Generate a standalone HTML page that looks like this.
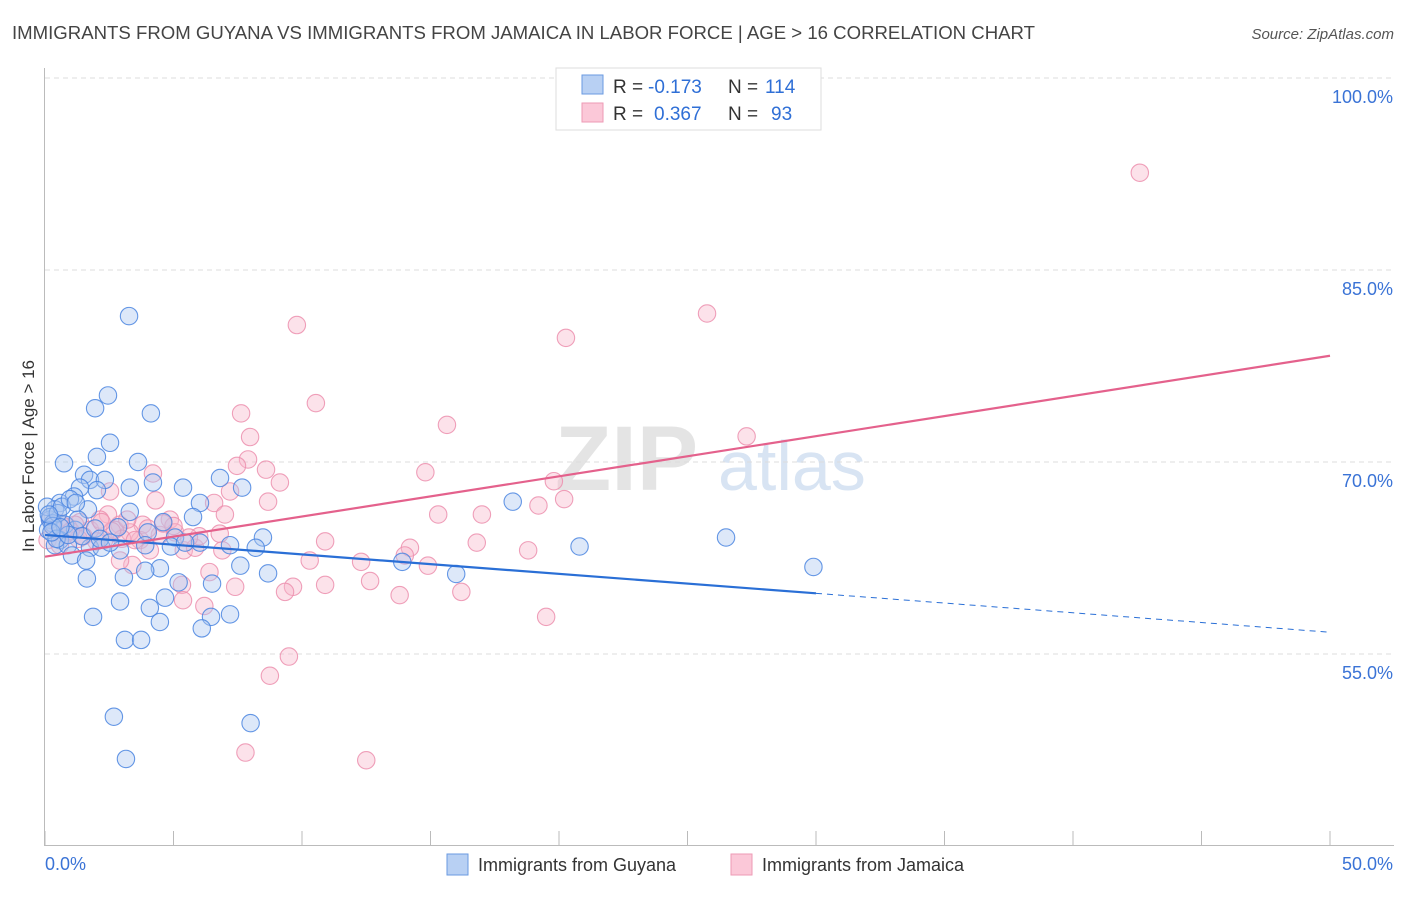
<!DOCTYPE html>
<html><head><meta charset="utf-8"><style>
body{margin:0;background:#fff;font-family:"Liberation Sans",sans-serif}
svg text{font-family:"Liberation Sans",sans-serif}
</style></head><body>
<svg id="chart" width="1406" height="892" xmlns="http://www.w3.org/2000/svg">
<text x="12" y="39" font-size="18.6" fill="#444">IMMIGRANTS FROM GUYANA VS IMMIGRANTS FROM JAMAICA IN LABOR FORCE | AGE &gt; 16 CORRELATION CHART</text>
<text x="1394" y="39" font-size="15" fill="#555" text-anchor="end" font-style="italic">Source: ZipAtlas.com</text>
<g><text x="555" y="490" font-size="92" fill="#e4e4e4" font-family="Liberation Serif" font-weight="bold">ZIP</text><text x="718" y="490" font-size="70" fill="#d8e4f3">atlas</text></g>
<g id="grid"></g><g id="axes"></g><g id="pink"></g><g id="blue"></g><g id="lines"></g>
<text transform="translate(34,456) rotate(-90)" font-size="17" fill="#333" text-anchor="middle">In Labor Force | Age &gt; 16</text>
<g font-size="19">
<rect x="556" y="68" width="265" height="62" fill="#fff" stroke="#ddd"/>
<rect x="582" y="75" width="21" height="19" fill="#b8d0f3" stroke="#6a9ae0"/>
<rect x="582" y="103" width="21" height="19" fill="#fbc8d8" stroke="#ee9ab5"/>
<text x="613" y="93" fill="#333">R =</text><text x="648" y="93" fill="#2f6fd6">-0.173</text>
<text x="728" y="93" fill="#333">N =</text><text x="765" y="93" fill="#2f6fd6">114</text>
<text x="613" y="120" fill="#333">R =</text><text x="654" y="120" fill="#2f6fd6">0.367</text>
<text x="728" y="120" fill="#333">N =</text><text x="771" y="120" fill="#2f6fd6">93</text>
</g>
<g>
<rect x="447" y="854" width="21" height="21" fill="#b8d0f3" stroke="#6a9ae0"/>
<text x="478" y="871" font-size="18" fill="#333">Immigrants from Guyana</text>
<rect x="731" y="854" width="21" height="21" fill="#fbc8d8" stroke="#ee9ab5"/>
<text x="762" y="871" font-size="18" fill="#333">Immigrants from Jamaica</text>
</g>
</svg>
<script>
const yTicks=[55,70,85,100];
const xTickLabels=["0.0%","50.0%"];
const blueX=[3.27,2.45,1.95,4.12,2.53,2.02,3.62,0.74,1.52,1.75,2.33,6.81,7.67,4.2,3.3,5.37,2.02,1.36,1.13,0.58,6.03,18.2,1.67,3.3,5.76,0.39,0.19,0.78,1.17,2.84,4.6,4.0,5.06,8.48,7.2,8.2,0.58,0.39,0.89,1.75,2.2,2.92,3.9,4.9,1.05,1.6,7.6,4.47,3.9,8.68,13.9,16.0,20.8,26.5,29.9,1.63,3.07,5.2,6.5,4.67,2.92,4.08,1.87,4.47,6.46,7.2,6.1,3.11,3.74,2.68,8.0,3.15,0.08,0.2,0.31,0.12,0.5,0.66,0.97,1.28,1.44,1.95,2.14,2.53,6.03,5.45,0.3,0.45,0.9,1.2,0.15,0.25,0.6];
const blueY=[81.4,75.2,74.2,73.8,71.5,70.4,70.0,69.9,69.0,68.6,68.6,68.75,68.0,68.4,68.0,68.0,67.8,68.0,67.3,66.8,66.8,66.9,66.3,66.1,65.7,66.3,65.5,65.1,64.7,64.9,65.3,64.5,64.1,64.1,63.5,63.3,63.9,63.5,63.5,63.3,63.3,63.1,63.5,63.4,62.7,62.3,61.9,61.7,61.5,61.3,62.2,61.25,63.4,64.1,61.8,60.9,61.0,60.6,60.5,59.4,59.1,58.6,57.9,57.5,57.9,58.1,57.0,56.1,56.1,50.1,49.6,46.8,66.5,65.7,65.2,64.7,66.0,66.5,67.1,65.5,64.2,64.8,64.0,63.7,63.7,63.7,65.0,64.0,64.3,66.8,65.9,64.5,64.9];
const pinkX=[42.6,25.76,9.8,20.27,10.54,7.63,15.64,7.98,27.3,7.9,7.47,8.6,4.2,14.8,9.14,19.8,7.2,2.53,4.3,8.68,6.58,20.2,19.2,15.3,17.0,7.0,4.86,3.8,2.9,2.45,1.36,10.9,16.8,14.2,18.8,14.0,6.9,5.4,3.7,2.3,10.3,12.3,14.9,6.4,3.4,12.65,10.9,7.4,5.33,9.65,9.34,13.8,16.2,5.37,6.2,19.5,9.49,8.75,7.8,12.5,0.2,0.4,0.1,0.78,1.17,1.75,2.14,0.58,3.3,4.47,5.06,5.84,4.08,2.92,2.72,0.3,0.9,1.5,2.0,3.0,4.0,5.0,6.0,0.6,1.3,2.6,3.5,4.6,5.6,6.8,1.0,2.2,3.2];
const pinkY=[92.6,81.6,80.7,79.7,74.6,73.8,72.9,71.95,72.0,70.2,69.7,69.4,69.1,69.2,68.4,68.5,67.7,67.7,67.0,66.9,66.8,67.1,66.6,65.9,65.9,65.9,65.5,65.1,65.1,65.9,65.3,63.8,63.7,63.3,63.1,62.7,63.1,63.1,63.9,63.9,62.3,62.2,61.9,61.4,61.95,60.7,60.4,60.25,60.4,60.25,59.85,59.6,59.85,59.2,58.75,57.9,54.8,53.3,47.3,46.7,65.5,64.7,63.9,64.3,65.1,64.7,65.5,63.5,64.5,64.3,64.5,63.3,63.1,62.3,64.7,65.0,64.9,64.2,63.8,64.0,64.8,65.0,64.2,65.2,64.0,64.6,63.9,65.2,64.1,64.4,64.6,65.3,65.5];
const blueLine=[64.3,56.7]; const blueSolidEnd=30;
const pinkLine=[62.6,78.3];
const NS="http://www.w3.org/2000/svg";
const sx=v=>45+v/50*1285, sy=v=>78+(100-v)*12.8;
function mk(t,a,p){const e=document.createElementNS(NS,t);for(const k in a)e.setAttribute(k,a[k]);p.appendChild(e);return e;}
const grid=document.getElementById('grid'),axes=document.getElementById('axes');
yTicks.forEach(t=>{
 const l=mk('line',{x1:45,x2:1394,y1:sy(t),y2:sy(t),stroke:'#ddd','stroke-dasharray':'5,4'},grid);
 
 
 const tx=mk('text',{x:1393,y:sy(t)+25,'font-size':18,fill:'#3a73d6','text-anchor':'end'},axes);
 tx.textContent=t.toFixed(1)+'%';
 
 
});
mk('line',{x1:44.5,x2:44.5,y1:68,y2:845,stroke:'#bbb'},axes);
mk('line',{x1:44,x2:1394,y1:845.5,y2:845.5,stroke:'#bbb'},axes);
for(let i=0;i<=10;i++){const x=sx(i*5);mk('line',{x1:x,x2:x,y1:831,y2:845,stroke:'#bbb'},axes);}
xTickLabels.forEach((s,i)=>{const tx=mk('text',{x:i?1393:45,y:870,'font-size':18,fill:'#3a73d6','text-anchor':i?'end':'start'},axes);tx.textContent=s;
 
 });
function pts(X,Y,g,fill,stroke,name){const G=document.getElementById(g);X.forEach((x,i)=>{const c=mk('circle',{cx:sx(x),cy:sy(Y[i]),r:8.7,fill:fill,'fill-opacity':0.4,stroke:stroke,'stroke-width':1.1,'stroke-opacity':0.85},G);
 
 });}
pts(pinkX,pinkY,'pink','#f7b6cb','#ec8fae','jamaica-point');
pts(blueX,blueY,'blue','#a9c6f0','#4a85e0','guyana-point');
const L=document.getElementById('lines');
const by=x=>blueLine[0]+(blueLine[1]-blueLine[0])*x/50, py=x=>pinkLine[0]+(pinkLine[1]-pinkLine[0])*x/50;
const b1=mk('line',{x1:sx(0),y1:sy(by(0)),x2:sx(blueSolidEnd),y2:sy(by(blueSolidEnd)),stroke:'#2a6fd6','stroke-width':2.2},L);


const b2=mk('line',{x1:sx(blueSolidEnd),y1:sy(by(blueSolidEnd)),x2:sx(50),y2:sy(by(50)),stroke:'#2a6fd6','stroke-width':1,'stroke-dasharray':'6,5'},L);


const p1=mk('line',{x1:sx(0),y1:sy(py(0)),x2:sx(50),y2:sy(py(50)),stroke:'#e4618c','stroke-width':2.2},L);


</script>
</body></html>
